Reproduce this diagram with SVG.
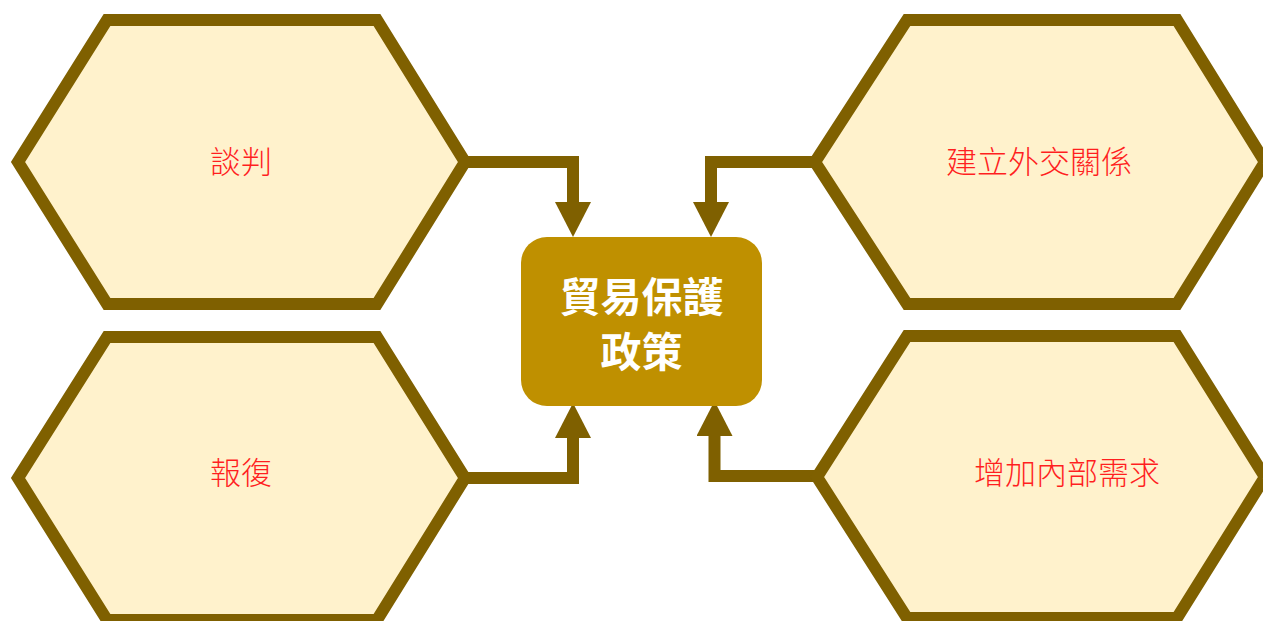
<svg xmlns="http://www.w3.org/2000/svg" width="1263" height="621" viewBox="0 0 1263 621">
<style>
.hex{fill:#fff2cc;stroke:#7f6000;stroke-width:12;stroke-linejoin:miter}
.lbl{font-family:"Noto Sans CJK TC","Noto Sans CJK SC",sans-serif;font-size:31px;font-weight:300;fill:#ff1f1f;text-anchor:middle;dominant-baseline:central}
.ctr{font-family:"Noto Sans CJK TC","Noto Sans CJK SC",sans-serif;font-size:41px;font-weight:bold;fill:#ffffff;text-anchor:middle;dominant-baseline:central}
.conn{fill:none;stroke:#7f6000;stroke-width:12;stroke-linejoin:miter}
</style>
<defs>
<marker id="arr" markerUnits="userSpaceOnUse" markerWidth="36" markerHeight="36" refX="0" refY="18" orient="auto">
<path d="M0,0 L35,18 L0,36 Z" fill="#7f6000"/>
</marker>
</defs>
<g id="connectors">
<path class="conn" d="M465,162 H573 V202" marker-end="url(#arr)"/>
<path class="conn" d="M815,162 H711 V202" marker-end="url(#arr)"/>
<path class="conn" d="M465,478 H573 V438" marker-end="url(#arr)"/>
<path class="conn" d="M815,476 H714.5 V436" marker-end="url(#arr)"/>
</g>
<g id="node-tanpan">
<polygon class="hex" points="18,162 107,20 377,20 465,162 377,304 107,304"/>
<text class="lbl" x="241" y="159">談判</text>
</g>
<g id="node-baofu">
<polygon class="hex" points="18,478 107,337 377,337 465,478 377,620 107,620"/>
<text class="lbl" x="241" y="470">報復</text>
</g>
<g id="node-waijiao">
<polygon class="hex" points="815,162 907,20 1177,20 1265,162 1177,304 907,304"/>
<text class="lbl" x="1039" y="159">建立外交關係</text>
</g>
<g id="node-neibu">
<polygon class="hex" points="817,477 907,336 1177,336 1265,477 1177,618 907,618"/>
<text class="lbl" x="1067" y="470">增加內部需求</text>
</g>
<g id="node-center">
<rect x="521" y="237" width="241" height="169" rx="26" ry="26" fill="#bf9000"/>
<text class="ctr" x="641.5" y="294">貿易保護</text>
<text class="ctr" x="641.5" y="349">政策</text>
</g>
</svg>
